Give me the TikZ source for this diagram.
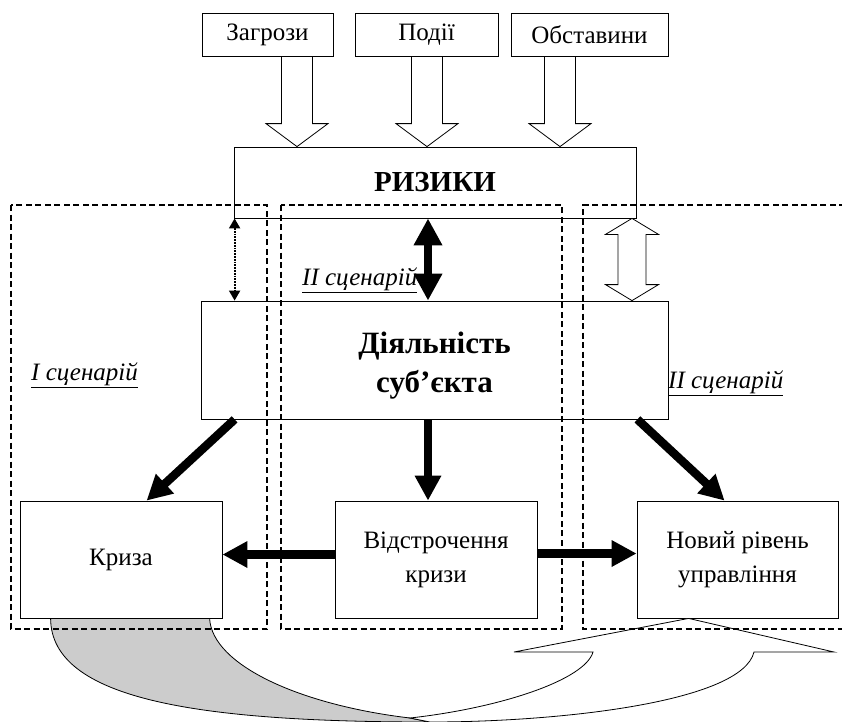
\documentclass[tikz,border=0pt]{standalone}
\usepackage{fontspec}
\setmainfont{Liberation Serif}
\usetikzlibrary{arrows.meta,calc}
\definecolor{lightgr}{RGB}{204,204,204}
\begin{document}
\begin{tikzpicture}[x=1pt,y=-1pt,
  box/.style={draw,line width=0.8pt,inner sep=0pt,align=center},
  topbox/.style={box,minimum height=43pt,font=\fontsize{25}{29}\selectfont},
  lowbox/.style={box,minimum width=202pt,minimum height=117pt,font=\fontsize{25}{34}\selectfont},
  bigarrow/.style={line width=8.5pt,-{Triangle[length=25pt,width=25pt]}},
  bigdouble/.style={line width=8.5pt,{Triangle[length=27pt,width=27pt]}-{Triangle[length=27pt,width=27pt]}},
  dotdouble/.style={line width=1.8pt,densely dotted,{Triangle[length=10pt,width=11pt]}-{Triangle[length=10pt,width=11pt]}},
  hollow/.style={draw,line width=0.8pt,fill=white},
  region/.style={line width=1.6pt,dash pattern=on 6pt off 3.5pt},
  scen/.style={anchor=base west,inner sep=0pt,font=\fontsize{25}{29}\selectfont\itshape}
]
\useasboundingbox (0,0) rectangle (842,721);

% top boxes
\node[topbox,minimum width=131pt] (z) at (267.5,34.5) {Загрози};
\node[topbox,minimum width=143pt] (p) at (426.5,34.5) {Події};
\node[topbox,minimum width=157pt] (o) at (589.5,34.5) {Обставини};

% risks
\node[box,minimum width=402pt,minimum height=71pt,font=\fontsize{29}{33}\selectfont\bfseries] (r) at (435,182.5) {РИЗИКИ};

% activity
\node[box,minimum width=467pt,minimum height=118pt] (d) at (434.5,360) {};
\node[inner sep=0pt,align=center,font=\fontsize{31}{39}\selectfont\bfseries] (dt) at ($(d.center)+(0,6)$) {Діяльність\\суб’єкта};

% lower boxes
\node[lowbox] (k) at (121,559.5) {Криза};
\node[lowbox] (v) at (436,559.5) {Відстрочення\\кризи};
\node[lowbox,minimum width=201pt] (n) at (737.5,559.5) {Новий рівень\\управління};

% hollow arrows down
\newcommand\hollowdown[2]{%
  \path[hollow] let \p1=(#1), \p2=(#2) in
    (\x1-15.5pt,\y1) -- (\x1+15.5pt,\y1) -- (\x1+15.5pt,\y2+23pt) -- (\x1+31pt,\y2+23pt)
    -- (\x1,\y2) -- (\x1-31pt,\y2+23pt) -- (\x1-15.5pt,\y2+23pt) -- cycle;}
\coordinate (za) at ($(z.south)+(29.5,0)$);
\coordinate (zb) at (za |- r.north);
\coordinate (pa) at ($(p.south)+(0.5,0)$);
\coordinate (pb) at (pa |- r.north);
\coordinate (oa) at ($(o.south)+(-29.5,0)$);
\coordinate (ob) at (oa |- r.north);
\hollowdown{za}{zb}
\hollowdown{pa}{pb}
\hollowdown{oa}{ob}

% risks <-> activity
\coordinate (ra) at ($(r.south)+(-7,0)$);
\draw[bigdouble] (ra) -- (ra |- d.north);
\coordinate (rl) at ($(r.south west)+(1,0)$);
\draw[dotdouble] (rl) -- (rl |- d.north);
\coordinate (rr) at ($(r.south)+(197,0)$);
\coordinate (rs) at (rr |- d.north);
\path[hollow] let \p1=(rr), \p2=(rs) in
  (\x1,\y1) -- (\x1+26.5pt,\y1-16pt) -- (\x1+14pt,\y1-16pt) -- (\x1+14pt,\y2+16pt)
  -- (\x1+26.5pt,\y2+16pt) -- (\x1,\y2) -- (\x1-26.5pt,\y2+16pt) -- (\x1-14pt,\y2+16pt)
  -- (\x1-14pt,\y1-16pt) -- (\x1-26.5pt,\y1-16pt) -- cycle;

% activity -> outcomes
\draw[bigarrow] ($(d.south west)+(34,0)$) -- ($(k.north west)+(127,0)$);
\coordinate (dv) at ($(d.south)+(-6.5,0)$);
\draw[bigarrow] (dv) -- (dv |- v.north);
\draw[bigarrow] ($(d.south east)+(-31,0)$) -- ($(n.north west)+(88,0)$);
\draw[bigarrow] ($(v.west)+(0,-5)$) -- ($(k.east)+(0,-5)$);
\draw[bigarrow] ($(v.east)+(0,-6)$) -- ($(n.west)+(0,-6)$);

% curved arrow from crisis to new level
\coordinate (c1) at ($(k.south west)+(31,0)$);
\coordinate (c2) at ($(k.south west)+(190,0)$);
\coordinate (ct) at ($(n.south west)+(52,0)$);
\filldraw[fill=lightgr,line width=0.8pt] (c1) .. controls (51,700) and (200,722) .. (430,722)
  -- (410,718) .. controls (300,705) and (212,665) .. (c2) -- cycle;
\filldraw[fill=white,line width=0.8pt] (410,718) .. controls (500,708) and (585,680) .. (593,652)
  -- (514,652) -- (ct) -- (834,652) -- (754,652) .. controls (742,702) and (560,722) .. (430,722) -- cycle;

% scenario regions
\draw[region] (11,205) rectangle (267,629);
\draw[region] (281,205) rectangle (562,629);
\draw[region] (845,205) -- (583,205) -- (583,629) -- (845,629);

% labels
\node[scen] (s1) at (31,380) {\underline{I сценарій}};
\node[scen] (s2) at (302,285) {\underline{II сценарій}};
\node[scen] (s3) at (668,388) {\underline{II сценарій}};
\end{tikzpicture}
\end{document}
